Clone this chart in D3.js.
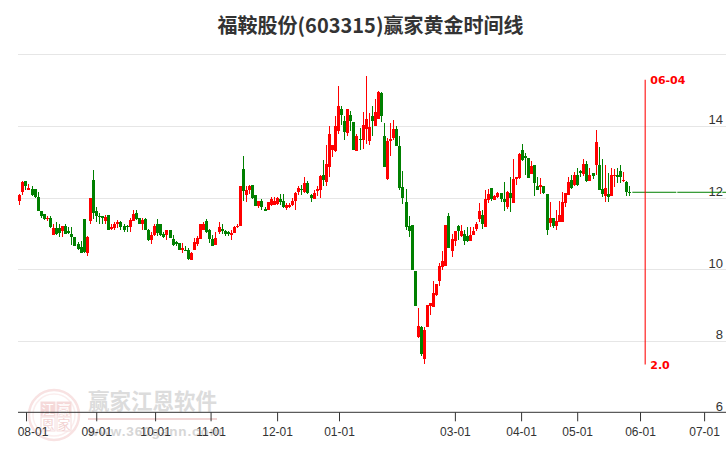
<!DOCTYPE html>
<html><head><meta charset="utf-8">
<style>html,body{margin:0;padding:0;background:#fff}svg{display:block}</style>
<script src="https://cdn.jsdelivr.net/npm/d3@7/dist/d3.min.js"></script>
</head><body><div id="c"></div>
<script>
const chartTitle = "福鞍股份(603315)赢家黄金时间线";
// prices per trading day: high, top of body, bottom of body, low; up days are red
const highs = [12.11,12.47,12.48,12.39,12.34,12.25,12.18,11.65,11.56,11.51,11.51,11.26,11.34,11.26,11.23,11.26,11.19,11.19,10.91,10.78,10.81,11.42,10.95,12.00,12.79,11.75,11.58,11.51,11.53,11.53,11.28,11.33,11.39,11.35,11.26,11.24,11.44,
11.67,11.67,11.44,11.44,11.44,11.14,11.05,11.26,11.42,11.26,11.05,11.12,11.12,10.98,10.79,10.74,10.74,10.65,10.60,10.48,10.88,10.95,11.28,11.33,11.41,11.13,10.98,11.05,11.33,11.27,11.12,11.07,11.12,11.23,11.27,12.34,13.18,12.34,12.37,12.37,12.09,11.93,
11.98,11.74,11.89,12.02,12.02,12.03,12.11,12.11,11.86,11.86,12.00,
12.17,12.34,12.37,12.58,12.47,12.12,12.21,12.33,12.65,13.07,13.49,14.00,13.49,14.30,15.12,14.56,14.28,14.50,14.42,14.11,13.80,13.96,14.39,15.40,14.37,14.56,14.77,14.98,14.95,14.09,13.68,14.09,14.19,14.00,13.72,12.76,
12.26,11.50,11.25,9.97,8.94,8.43,8.41,9.02,9.06,9.69,9.60,10.18,10.51,11.25,11.58,11.00,11.07,11.25,11.25,11.11,11.19,11.19,11.20,11.33,11.86,11.67,12.23,
12.26,12.28,12.09,12.18,12.14,12.46,12.20,12.60,13.09,12.60,13.25,13.51,13.25,13.13,13.02,12.93,12.60,12.55,12.34,12.12,11.88,11.44,11.67,11.92,12.18,12.15,12.58,12.65,12.74,12.83,12.79,13.09,13.02,12.83,12.69,13.90,13.42,13.09,12.93,12.69,12.83,12.81,12.83,12.93,12.74,12.48,12.34];
const bodyTops = [12.07,12.46,12.48,12.28,12.25,12.25,12.03,11.63,11.55,11.45,11.44,11.16,11.16,11.16,11.23,11.23,11.08,11.00,10.91,10.72,10.63,11.42,10.92,12.00,12.51,11.64,11.51,11.51,11.47,11.53,11.19,11.27,11.33,11.33,11.22,11.22,11.39,
11.56,11.58,11.44,11.39,11.42,11.12,10.97,11.23,11.27,11.26,11.00,11.11,11.12,10.85,10.76,10.74,10.60,10.55,10.54,10.46,10.76,10.88,11.26,11.27,11.37,11.12,10.85,10.88,11.19,11.13,11.07,11.04,11.01,11.19,11.23,12.34,12.81,12.21,12.34,12.37,12.07,11.93,
11.93,11.70,11.89,11.98,11.91,12.00,11.98,11.91,11.81,11.81,11.93,
12.15,12.29,12.25,12.42,12.42,12.07,12.14,12.25,12.62,12.65,12.96,13.79,13.49,14.02,14.56,14.50,14.16,14.50,14.33,14.11,13.72,13.66,14.05,14.21,13.98,14.30,14.40,14.95,14.93,13.74,13.60,13.66,13.93,13.93,13.46,12.31,
11.88,11.22,11.25,9.97,8.43,8.41,8.32,9.02,9.06,9.34,9.60,10.11,10.25,11.25,11.50,10.85,11.07,11.22,11.08,10.99,10.94,10.97,11.08,11.28,11.64,11.53,11.98,
12.12,12.28,12.06,12.14,12.14,11.98,12.18,12.15,12.53,12.58,13.23,13.35,13.18,13.12,12.90,12.93,12.34,12.37,12.34,12.12,11.44,11.44,11.36,11.53,11.88,12.15,12.46,12.49,12.65,12.65,12.76,12.96,12.96,12.65,12.69,13.56,12.93,12.26,12.28,12.12,12.65,12.65,12.64,12.76,12.50,12.45,12.17];
const bodyBottoms = [11.93,12.18,12.33,12.23,12.09,12.02,11.65,11.49,11.41,11.41,11.18,10.98,11.00,11.02,11.09,11.00,11.01,10.90,10.65,10.58,10.46,10.48,10.45,11.35,11.58,11.51,11.50,11.45,11.35,11.12,11.14,11.16,11.26,11.19,11.10,11.20,11.19,
11.35,11.41,11.26,11.26,11.12,10.84,10.82,10.98,11.02,10.98,10.91,10.96,10.87,10.70,10.72,10.54,10.54,10.51,10.30,10.28,10.54,10.72,10.85,11.12,11.04,10.86,10.67,10.70,11.06,11.07,11.00,11.00,10.98,11.02,11.18,11.23,12.19,12.07,12.23,12.00,11.79,11.79,
11.74,11.63,11.66,11.81,11.80,11.83,11.88,11.74,11.72,11.74,11.80,
11.91,12.16,12.21,12.16,12.14,12.01,11.97,12.19,12.21,12.51,12.44,12.86,13.35,13.30,13.88,14.31,13.83,13.82,14.14,13.35,13.30,13.65,13.63,13.93,13.58,14.14,14.00,14.21,14.28,12.86,12.53,13.58,13.68,13.44,12.28,12.00,
11.20,11.07,9.98,8.97,8.13,7.65,7.51,8.41,8.99,8.95,9.29,9.69,10.07,10.11,10.60,10.53,10.81,11.09,10.94,10.81,10.79,10.79,10.97,11.14,11.41,11.28,11.20,
11.95,11.97,11.95,12.04,11.98,11.90,11.74,11.99,11.86,12.53,12.55,13.05,13.11,12.57,12.68,12.43,12.21,12.32,12.14,11.11,11.30,11.22,11.22,11.34,11.32,11.86,12.09,12.28,12.37,12.37,12.71,12.68,12.48,12.48,12.62,12.91,12.23,12.12,12.06,12.04,12.06,12.62,12.60,12.58,12.48,12.18,12.15];
const lows = [11.81,12.07,12.23,12.23,12.05,12.00,11.65,11.44,11.38,11.37,11.16,10.98,10.98,10.92,10.92,11.00,11.00,10.70,10.65,10.56,10.45,10.45,10.39,11.26,11.41,11.34,11.26,11.28,11.26,11.12,11.12,11.10,11.16,11.12,11.06,11.04,11.06,
11.35,11.39,11.26,11.12,11.12,10.81,10.72,10.95,10.95,10.95,10.88,10.84,10.87,10.67,10.65,10.54,10.46,10.51,10.28,10.28,10.54,10.67,10.85,11.12,11.02,10.74,10.67,10.70,11.00,11.00,10.95,10.95,10.84,11.02,11.16,11.23,11.93,11.90,12.12,11.97,11.79,11.73,
11.67,11.63,11.66,11.77,11.80,11.80,11.81,11.72,11.67,11.72,11.77,
11.66,12.07,12.07,12.14,12.12,11.88,11.97,12.05,12.00,12.33,12.34,12.59,13.15,13.28,13.80,14.05,13.63,13.72,13.86,13.33,13.30,13.35,13.38,13.52,13.49,13.74,14.00,14.21,14.11,12.86,12.51,13.18,13.63,13.44,12.23,11.84,
11.11,10.90,9.98,8.97,8.10,7.59,7.37,8.41,8.74,8.95,9.27,9.55,10.00,10.11,10.60,10.34,10.65,10.83,10.91,10.69,10.76,10.79,10.97,11.07,11.34,11.14,11.20,
11.86,11.93,11.95,12.00,11.88,11.65,11.69,11.60,11.86,12.37,12.53,13.02,12.65,12.55,12.68,12.06,12.21,12.12,12.12,10.97,11.20,11.16,11.11,11.34,11.32,11.74,12.09,12.25,12.34,12.34,12.60,12.62,12.46,12.48,12.53,12.65,12.23,12.02,11.90,11.90,12.06,12.32,12.41,12.41,12.44,12.06,12.06];
// day numbers of the up (red) days
const redDays = [0,1,3,9,11,14,22,23,28,30,31,32,36,37,40,43,44,48,53,56,57,58,59,60,64,65,69,70,71,72,74,75,78,81,82,83,84,87,88,89,
90,91,93,96,97,98,100,101,102,103,104,107,110,112,113,114,116,117,120,121,122,
130,132,133,134,135,136,137,138,139,141,142,144,147,148,149,150,152,
153,155,156,159,161,162,163,167,170,173,175,176,177,178,179,181,184,186,188,191,193,194,197];
const flatPrice = 12.16;
const yTicks = [14,12,10,8,6];
const gridLevels = [16,14,12,10,8];
const monthLabels = ["08-01","09-01","10-01","11-01","12-01","01-01","03-01","04-01","05-01","06-01","07-01"];
const monthDays = [2.2,25.1,44.3,62.4,84.1,104.3,142.1,163.7,182,202.5,223.4];
const markerDay = 204.2, markerLabel = "06-04", markerRatio = "2.0", markerTop = 15.3, markerBottom = 7.35;
const sealChars = ["江","赢","恩","家"];
const wmName = "赢家江恩软件", wmUrl = "www.360gann.com";

const W = 726, H = 450;
const svg = d3.select("#c").append("svg").attr("width",W).attr("height",H);
const x = d3.scaleLinear().domain([0,199]).range([19.3,629.3]);
const y = d3.scaleLinear().domain([6,16]).range([412.8,54.8]);
const red = "#ff0000", green = "#008000";
const CJK = "'Noto Sans CJK SC','Noto Sans',sans-serif";
const ARIAL = "'Liberation Sans',Arial,sans-serif";

// watermark
const wm = svg.append("g");
const ringX = 54, ringY = 415;
wm.append("circle").attr("cx",ringX).attr("cy",ringY).attr("r",25).attr("fill","none").attr("stroke","#f8e2e2").attr("stroke-width",2.5);
wm.append("circle").attr("cx",ringX).attr("cy",ringY).attr("r",21).attr("fill","none").attr("stroke","#fbeeee").attr("stroke-width",1.5);
const cells = [[41,402],[57,402],[41,417],[57,417]];
cells.forEach((c,i)=>{
  wm.append("rect").attr("x",c[0]).attr("y",c[1]).attr("width",14).attr("height",14)
    .attr("fill",i<2?"#f5d8d8":"#fff").attr("stroke","#f5dcdc").attr("stroke-width",1);
  wm.append("text").attr("x",c[0]+7).attr("y",c[1]+12).attr("text-anchor","middle")
    .attr("font-family",CJK).attr("font-size",13).attr("fill",i<2?"#fff":"#f2d2d2").text(sealChars[i]);
});
wm.append("text").attr("x",88).attr("y",408.5).attr("font-family",CJK).attr("font-weight",700)
  .attr("font-size",21.5).attr("fill","#dcdcdc").text(wmName);
wm.append("line").attr("x1",88).attr("x2",217).attr("y1",419).attr("y2",419).attr("stroke","#f0d4d4").attr("stroke-width",2);
wm.append("text").attr("x",88).attr("y",436).attr("font-family",ARIAL).attr("font-weight",700)
  .attr("font-size",13.5).attr("letter-spacing",0.9).attr("fill","#d6d6d6").text(wmUrl);

// grid
svg.append("g").selectAll("line").data(gridLevels).join("line")
  .attr("x1",18).attr("x2",W).attr("y1",d=>y(d)).attr("y2",d=>y(d))
  .attr("stroke","#e6e6e6").attr("stroke-width",1).attr("shape-rendering","crispEdges");

// title
svg.append("text").attr("x",370.5).attr("y",33).attr("text-anchor","middle")
  .attr("font-family",CJK).attr("font-weight",700).attr("font-size",20).attr("fill","#333").text(chartTitle);

// axes
const xAxis = d3.axisBottom(x).tickValues(monthDays).tickSize(9).tickFormat((d,i)=>monthLabels[i]);
const gx = svg.append("g").attr("transform",`translate(0,${y(6)-0.5})`).call(xAxis);
gx.select(".domain").remove();
gx.append("line").attr("x1",18).attr("x2",W).attr("stroke","#333").attr("stroke-width",1);
gx.selectAll(".tick line").attr("stroke","#333");
gx.selectAll(".tick text").attr("font-family",ARIAL).attr("font-size",12).attr("fill","#333").attr("y",15)
  .attr("dx",(d,i)=>i===0?6.5:0);
const yAxis = d3.axisLeft(y).tickValues(yTicks).tickSize(0).tickPadding(0);
const gy = svg.append("g").attr("transform",`translate(723,0)`).call(yAxis);
gy.select(".domain").remove();
gy.selectAll(".tick text").attr("font-family",ARIAL).attr("font-size",13).attr("fill","#333").attr("dy","-0.2em");

// candles
const reds = new Set(redDays);
const days = d3.range(highs.length);
const colour = i => reds.has(i) ? red : green;
const plot = svg.append("g").attr("shape-rendering","crispEdges");
plot.selectAll(".w").data(days).join("line").attr("class","w")
  .attr("x1",i=>Math.round(x(i))+0.5).attr("x2",i=>Math.round(x(i))+0.5).attr("y1",i=>y(highs[i])).attr("y2",i=>y(lows[i]))
  .attr("stroke",colour).attr("stroke-width",1);
plot.selectAll(".b").data(days).join("rect").attr("class","b")
  .attr("x",i=>Math.round(x(i))-1).attr("width",3)
  .attr("y",i=>y(bodyTops[i])).attr("height",i=>Math.max(1,y(bodyBottoms[i])-y(bodyTops[i])))
  .attr("fill",colour);

// projected flat line
svg.append("line").attr("x1",x(199)+3).attr("x2",W).attr("y1",y(flatPrice)).attr("y2",y(flatPrice))
  .attr("stroke",green).attr("stroke-width",1).attr("stroke-dasharray","44,1");

// marker
svg.append("line").attr("x1",x(markerDay)).attr("x2",x(markerDay)).attr("y1",y(markerTop)).attr("y2",y(markerBottom))
  .attr("stroke",red).attr("stroke-opacity",0.7).attr("stroke-width",1.5);
svg.append("text").attr("x",x(markerDay)+5).attr("y",y(markerTop)+4.5).attr("font-family","'DejaVu Sans',sans-serif")
  .attr("font-weight",700).attr("font-size",11).attr("fill",red).text(markerLabel);
svg.append("text").attr("x",x(markerDay)+5).attr("y",y(markerBottom)+5).attr("font-family","'DejaVu Sans',sans-serif")
  .attr("font-weight",700).attr("font-size",11).attr("fill",red).text(markerRatio);
</script></body></html>
